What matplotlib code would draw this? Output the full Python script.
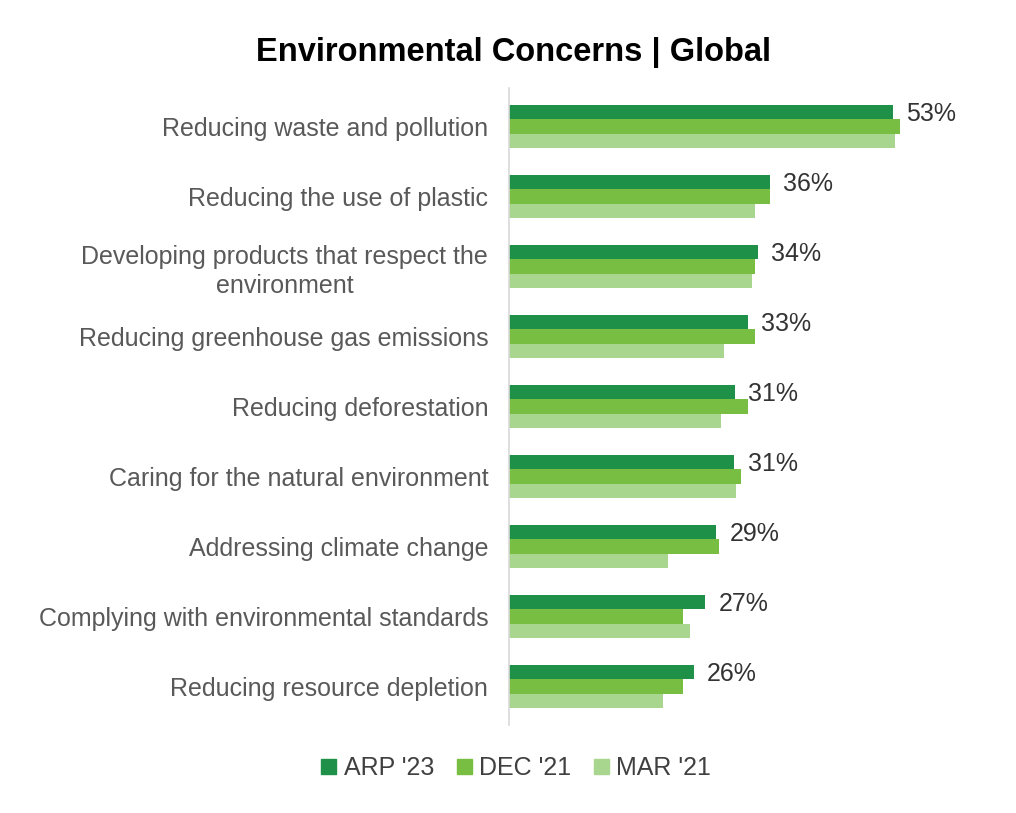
import numpy as np
import matplotlib.pyplot as plt
from matplotlib.patches import Patch

plt.rcParams['font.family'] = ['Liberation Sans', 'DejaVu Sans']

categories = [
    "Reducing waste and pollution",
    "Reducing the use of plastic",
    "Developing products that respect the\nenvironment",
    "Reducing greenhouse gas emissions",
    "Reducing deforestation",
    "Caring for the natural environment",
    "Addressing climate change",
    "Complying with environmental standards",
    "Reducing resource depletion",
]
series_names = ["ARP '23", "DEC '21", "MAR '21"]
arp23 = [53, 36, 34.3, 33, 31.2, 31.1, 28.6, 27.1, 25.5]
dec21 = [54, 36, 34, 33.9, 33, 32, 29, 24, 24]
mar21 = [53.3, 33.9, 33.5, 29.6, 29.2, 31.3, 21.9, 25, 21.3]
arp_labels = ["53%", "36%", "34%", "33%", "31%", "31%", "29%", "27%", "26%"]

colors = ["#1e9048", "#78be43", "#a9d68e"]

fig = plt.figure(figsize=(10.16, 8.13), dpi=100)
ax = fig.add_axes([0.501, 0.1082, 0.428, 0.7836])

y = np.arange(len(categories))
h = 0.204
for i, vals in enumerate([arp23, dec21, mar21]):
    ax.barh(y + (i - 1) * h, vals, height=h, color=colors[i], label=series_names[i])

# only the latest wave gets a value label
for yi, v, lab in zip(y, arp23, arp_labels):
    ax.annotate(lab, (v, yi - h + 0.03), xytext=(9.5, 0), textcoords="offset points",
                va="center", ha="left", fontsize=18, color="#333333")

ax.set_ylim(len(categories) - 0.45, -0.55)
ax.set_xlim(0, 60)
ax.set_yticks(y)
ax.set_yticklabels(categories, fontsize=18, color="#595959", ha="right",
                   multialignment="center", linespacing=1.25)
ax.tick_params(axis="y", length=0, pad=15)
ax.set_xticks([])
for s in ["top", "right", "bottom"]:
    ax.spines[s].set_visible(False)
ax.spines["left"].set_color("#d9d9d9")
ax.spines["left"].set_linewidth(1.2)

fig.suptitle("Environmental Concerns | Global", x=0.505, y=0.955,
             fontsize=23.5, fontweight="bold", va="top")

handles = [Patch(color=c) for c in colors]
fig.legend(handles, series_names, loc="center", bbox_to_anchor=(0.508, 0.055),
           ncol=3, frameon=False, fontsize=18, handlelength=0.6, handleheight=0.6,
           handletextpad=0.3, columnspacing=0.9, labelcolor="#404040")

fig.savefig("out.png", dpi=100)
